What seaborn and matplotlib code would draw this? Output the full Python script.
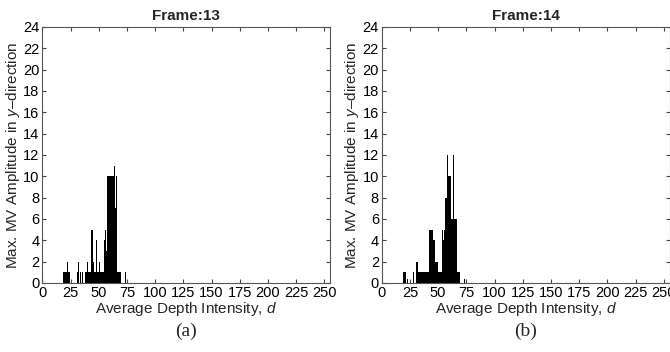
import numpy as np
import pandas as pd
import matplotlib
matplotlib.use("Agg")
import matplotlib.pyplot as plt
import seaborn as sns

# ---- data ----
d13 = [19, 20, 21, 22, 23, 24, 31, 32, 34, 36, 38, 39, 40, 41, 42, 43, 44, 45, 46, 47,
       48, 49, 50, 51, 52, 53, 54, 55, 56, 57, 58, 59, 60, 61, 62, 63, 64, 65, 66,
       67, 68, 69, 74]
h13 = [1, 1, 1, 2, 1, 1, 1, 2, 1, 1, 1, 1, 2, 1, 1, 1, 5, 2, 1, 1,
       4, 1, 1, 2, 1, 1, 1, 4, 5, 3, 10, 10, 10, 10, 10, 10, 11, 7, 10,
       1, 1, 1, 1]

d14 = [19, 20, 21, 23, 28, 31, 32, 33, 34, 35, 36, 37, 38, 39, 40, 41,
       42, 43, 44, 45, 46, 47, 48, 49, 50, 51, 52, 53, 54, 55, 56, 57, 58,
       59, 60, 61, 62, 63, 64, 65, 66, 67, 68, 69, 73]
h14 = [1, 1, 1, 0.4, 1, 2, 2, 1, 1, 1, 1, 1, 1, 1, 1, 1,
       5, 5, 5, 5, 4, 4, 2, 2, 1, 1, 1, 1, 5, 4, 5, 8, 12,
       10, 10, 10, 6, 6, 12, 6, 6, 1, 1, 1, 0.4]

titles = ["Frame:13", "Frame:14"]
captions = ["(a)", "(b)"]
xticks = list(range(0, 251, 25))
yticks = list(range(0, 25, 2))

sns.set_theme(style="white")
plt.rcParams["font.family"] = ["Liberation Sans", "DejaVu Sans"]
plt.rcParams["mathtext.fontset"] = "custom"
plt.rcParams["mathtext.it"] = "Liberation Sans:italic"
plt.rcParams["mathtext.rm"] = "Liberation Sans"

fig = plt.figure(figsize=(6.7, 3.52), dpi=100)
W, H = 670.0, 352.0
rects = [(42.3, 27, 330.0, 283), (381.7, 27, 669.5, 283)]

frames = [(d13, h13), (d14, h14)]
for i, ((dd, hh), (x0, y0, x1, y1)) in enumerate(zip(frames, rects)):
    ax = fig.add_axes([x0 / W, 1 - y1 / H, (x1 - x0) / W, (y1 - y0) / H])
    df = pd.DataFrame({"d": dd, "h": hh})
    sns.histplot(data=df, x="d", weights="h", discrete=True, ax=ax,
                 color="black", alpha=1, edgecolor="none", linewidth=0)
    ax.set_xlim(0, 255)
    ax.set_ylim(0, 24)
    ax.set_xticks(xticks)
    ax.set_yticks(yticks)
    ax.tick_params(direction="in", length=3, width=0.8, colors="#444444",
                   labelcolor="black", labelsize=10.5, top=True, right=True,
                   bottom=True, left=True, pad=2)
    for s in ax.spines.values():
        s.set_visible(True)
        s.set_color("#555555")
        s.set_linewidth(0.8)
    ax.set_title(titles[i], fontsize=11, fontweight="bold", pad=5)
    ax.set_xlabel("Average Depth Intensity, $d$", fontsize=11, labelpad=0)
    ax.set_ylabel("Max. MV Amplitude in $y$\u2013direction", fontsize=11, labelpad=1)
    fig.text((x0 + x1) / 2 / W, 1 - 331 / H, captions[i], ha="center", va="center",
             fontsize=14, family=["Liberation Serif", "DejaVu Serif"])

fig.savefig("out.png", dpi=100, facecolor="white")
